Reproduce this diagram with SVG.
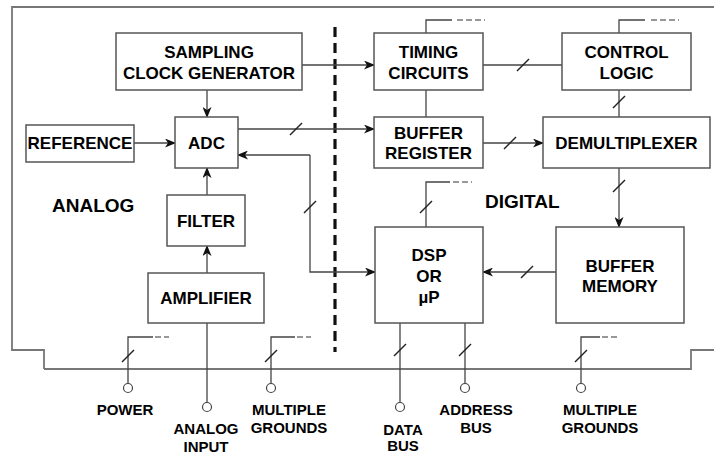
<svg xmlns="http://www.w3.org/2000/svg" width="714" height="456" viewBox="0 0 714 456">
<defs>
<marker id="ah" markerWidth="11" markerHeight="9" refX="10" refY="4.5" orient="auto" markerUnits="userSpaceOnUse">
<path d="M0,0 L11,4.5 L0,9 L3,4.5 z" fill="#111"/>
</marker>
<style>
.box{fill:#fff;stroke:#555;stroke-width:1.5}
.ln{fill:none;stroke:#444;stroke-width:1.3}
.ar{fill:none;stroke:#444;stroke-width:1.3;marker-end:url(#ah)}
.sl{stroke:#222;stroke-width:1.4}
.dsh{fill:none;stroke:#777;stroke-width:1.4;stroke-dasharray:6,3}
.brd{fill:none;stroke:#777;stroke-width:1.8}
.t{font-family:"Liberation Sans",Arial,sans-serif;font-weight:bold;font-size:17px;fill:#000;text-anchor:middle}
.s{font-family:"Liberation Sans",Arial,sans-serif;font-weight:bold;font-size:15px;fill:#000;text-anchor:middle}
.big{font-family:"Liberation Sans",Arial,sans-serif;font-weight:bold;font-size:19px;fill:#000}
.pin{fill:#fff;stroke:#444;stroke-width:1.2}
</style>
</defs>
<rect width="714" height="456" fill="#fff"/>
<g id="border">
<path class="brd" d="M714,7 H12 V350 H44 V369"/>
<path class="brd" d="M44,369 H691 V350 H714" stroke="#444"/>
<line x1="335" y1="27" x2="335" y2="352" stroke="#111" stroke-width="3.2" stroke-dasharray="10,6"/>
</g>
<g id="connectors">
<path class="ar" d="M302,65 H374"/>
<path class="ar" d="M207,90 V117"/>
<path class="ar" d="M134,143 H175"/>
<path class="ar" d="M238,129 H374"/>
<path class="ar" d="M310,155 H238"/>
<path class="ar" d="M310,155 V272 H375"/>
<path class="ar" d="M207,195 V168"/>
<path class="ar" d="M207,273 V246"/>
<path class="ln" d="M207,323 V402.5"/>
<path class="ln" d="M426,90 V117"/>
<path class="ln" d="M483,65 H562"/>
<path class="ln" d="M619,90 V117"/>
<path class="ar" d="M483,143 H543"/>
<path class="ar" d="M619,168 V227"/>
<path class="ar" d="M556,272 H483"/>
<path class="ln" d="M426,33 V20 H452"/>
<path class="dsh" d="M457,20 H485" stroke-dasharray="5,2.5"/>
<path class="ln" d="M619,33 V20 H645"/>
<path class="dsh" d="M651,20 H679" stroke-dasharray="5,2.5"/>
<path class="ln" d="M426,227 V182 H450"/>
<path class="dsh" d="M453,182 H472"/>
<path class="ln" d="M128,383.5 V337 H153"/>
<path class="dsh" d="M155,337 H169"/>
<path class="ln" d="M271,383.5 V337 H295"/>
<path class="dsh" d="M297,337 H311"/>
<path class="ln" d="M581,383.5 V337 H600"/>
<path class="dsh" d="M602,337 H620"/>
<path class="ln" d="M400,323 V402.5"/>
<path class="ln" d="M465,323 V383.5"/>
<g class="sl">
<line x1="290" y1="135" x2="302" y2="123"/>
<line x1="517" y1="71" x2="529" y2="59"/>
<line x1="504" y1="149" x2="516" y2="137"/>
<line x1="521" y1="278" x2="533" y2="266"/>
<line x1="613" y1="108" x2="625" y2="96"/>
<line x1="613" y1="192" x2="625" y2="180"/>
<line x1="420" y1="213" x2="432" y2="201"/>
<line x1="304" y1="213" x2="316" y2="201"/>
<line x1="394" y1="356" x2="406" y2="344"/>
<line x1="459" y1="356" x2="471" y2="344"/>
<line x1="122" y1="362" x2="134" y2="350"/>
<line x1="265" y1="362" x2="277" y2="350"/>
<line x1="575" y1="362" x2="587" y2="350"/>
</g>
<circle class="pin" cx="128" cy="388" r="4.5"/>
<circle class="pin" cx="207" cy="407" r="4.5"/>
<circle class="pin" cx="271" cy="388" r="4.5"/>
<circle class="pin" cx="400" cy="407" r="4.5"/>
<circle class="pin" cx="465" cy="388" r="4.5"/>
<circle class="pin" cx="581" cy="388" r="4.5"/>
</g>
<g id="scg"><rect class="box" x="116" y="33" width="186" height="57"/><text class="t" x="209" y="58">SAMPLING</text><text class="t" x="209" y="79">CLOCK GENERATOR</text></g>
<g id="adc"><rect class="box" x="175" y="117" width="63" height="51"/><text class="t" x="206.5" y="149">ADC</text></g>
<g id="reference"><rect class="box" x="26" y="125" width="108" height="37"/><text class="t" x="80" y="149">REFERENCE</text></g>
<g id="filter"><rect class="box" x="167" y="195" width="78" height="51"/><text class="t" x="206" y="227">FILTER</text></g>
<g id="amplifier"><rect class="box" x="148" y="273" width="116" height="50"/><text class="t" x="206" y="304">AMPLIFIER</text></g>
<g id="timing"><rect class="box" x="374" y="33" width="109" height="57"/><text class="t" x="428.5" y="58">TIMING</text><text class="t" x="428.5" y="79">CIRCUITS</text></g>
<g id="control"><rect class="box" x="562" y="33" width="129" height="57"/><text class="t" x="626.5" y="58">CONTROL</text><text class="t" x="626.5" y="79">LOGIC</text></g>
<g id="bufreg"><rect class="box" x="374" y="117" width="109" height="51"/><text class="t" x="428.5" y="139">BUFFER</text><text class="t" x="428.5" y="159">REGISTER</text></g>
<g id="demux"><rect class="box" x="543" y="117" width="167" height="51"/><text class="t" x="626.5" y="149">DEMULTIPLEXER</text></g>
<g id="dsp"><rect class="box" x="375" y="227" width="108" height="96"/><text class="t" x="429" y="261">DSP</text><text class="t" x="429" y="282">OR</text><text class="t" x="429" y="303">µP</text></g>
<g id="bufmem"><rect class="box" x="556" y="227" width="128" height="96"/><text class="t" x="620" y="272">BUFFER</text><text class="t" x="620" y="292">MEMORY</text></g>
<g id="labels">
<text class="big" x="52" y="212">ANALOG</text>
<text class="big" x="485" y="208">DIGITAL</text>
<text class="s" x="125" y="415">POWER</text>
<text class="s" x="206" y="434">ANALOG</text>
<text class="s" x="206" y="452">INPUT</text>
<text class="s" x="289" y="415">MULTIPLE</text>
<text class="s" x="289" y="433">GROUNDS</text>
<text class="s" x="403" y="435">DATA</text>
<text class="s" x="403" y="451">BUS</text>
<text class="s" x="476" y="415">ADDRESS</text>
<text class="s" x="476" y="433">BUS</text>
<text class="s" x="600" y="415">MULTIPLE</text>
<text class="s" x="600" y="433">GROUNDS</text>
</g>
</svg>
